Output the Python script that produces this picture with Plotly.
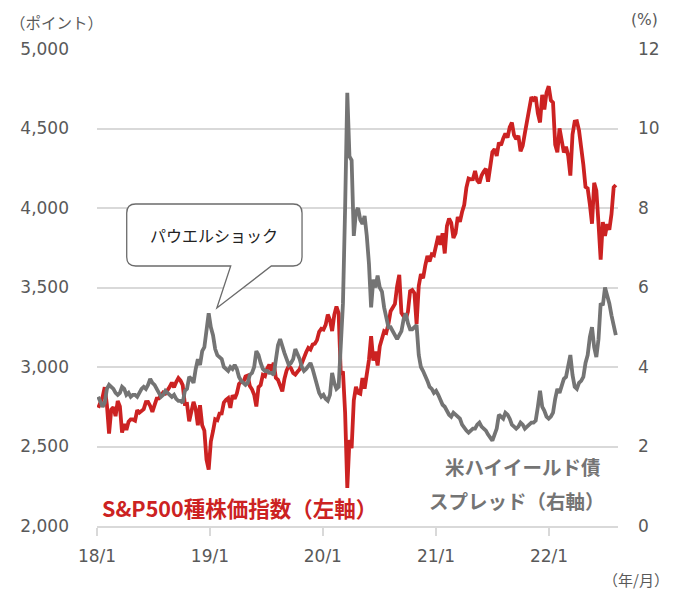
import pandas as pd
import plotly.graph_objects as go

# ---------------- data (weekly, Friday) ----------------
sp_2018 = [2743, 2786, 2810, 2873, 2762, 2581, 2732, 2747, 2691, 2786, 2752, 2588, 2641,
           2604, 2656, 2670, 2670, 2663, 2728, 2713, 2721, 2735, 2779, 2780, 2755, 2718,
           2760, 2801, 2802, 2819, 2840, 2833, 2850, 2875, 2902, 2872, 2905, 2930, 2914,
           2886, 2767, 2768, 2659, 2723, 2781, 2736, 2633, 2760, 2633, 2600, 2417, 2355]
sp_2019 = [2532, 2596, 2671, 2665, 2707, 2708, 2776, 2793, 2804, 2743, 2822, 2800, 2834,
           2893, 2907, 2905, 2940, 2946, 2881, 2860, 2826, 2752, 2873, 2887, 2950, 2942,
           2990, 3014, 2977, 3026, 2932, 2919, 2889, 2847, 2926, 2979, 3007, 2992, 2962,
           2952, 2970, 2986, 3023, 3067, 3093, 3120, 3110, 3141, 3146, 3169, 3221, 3240]
sp_2020 = [3235, 3265, 3330, 3295, 3226, 3328, 3380, 3338, 2954, 2972, 2711, 2240, 2541,
           2489, 2790, 2875, 2837, 2831, 2930, 2864, 2955, 3044, 3194, 3041, 3098, 3009,
           3130, 3185, 3225, 3216, 3271, 3351, 3373, 3397, 3508, 3580, 3341, 3319, 3298,
           3348, 3477, 3484, 3465, 3270, 3510, 3585, 3558, 3638, 3699, 3663, 3709, 3703]
sp_2021 = [3756, 3825, 3768, 3841, 3714, 3887, 3934, 3907, 3811, 3842, 3943, 3913, 3975,
           4020, 4129, 4185, 4180, 4181, 4233, 4174, 4156, 4204, 4230, 4247, 4166, 4281,
           4352, 4370, 4327, 4411, 4395, 4437, 4468, 4442, 4509, 4537, 4459, 4433, 4455,
           4357, 4391, 4471, 4545, 4605, 4697, 4682, 4698, 4595, 4538, 4712, 4620, 4726, 4766]
sp_2022 = [4677, 4663, 4398, 4350, 4501, 4419, 4349, 4385, 4329, 4204, 4463, 4543,
           4546, 4488, 4393, 4272, 4132, 4123, 4024, 3901, 4158, 4109, 3901, 3675, 3912,
           3825, 3899, 3863, 3962, 4130, 4145]

hy_2018 = [3.25, 3.10, 3.00, 3.10, 3.45, 3.55, 3.50, 3.45, 3.35, 3.30, 3.35, 3.50, 3.45,
           3.30, 3.35, 3.25, 3.30, 3.30, 3.25, 3.35, 3.45, 3.50, 3.45, 3.55, 3.70, 3.60,
           3.55, 3.45, 3.35, 3.25, 3.30, 3.40, 3.35, 3.30, 3.25, 3.30, 3.20, 3.15, 3.15,
           3.10, 3.40, 3.45, 3.75, 3.70, 3.60, 3.95, 4.20, 4.05, 4.40, 4.50, 4.90, 5.35]
hy_2019 = [5.00, 4.80, 4.45, 4.30, 4.25, 4.20, 4.00, 3.95, 3.90, 4.00, 3.95, 4.05, 3.95,
           3.75, 3.65, 3.60, 3.55, 3.60, 3.80, 3.85, 4.00, 4.40, 4.30, 4.10, 3.95, 3.90,
           3.90, 3.85, 3.85, 3.80, 4.20, 4.55, 4.70, 4.50, 4.35, 4.20, 4.05, 4.10, 4.20,
           4.45, 4.35, 4.20, 4.00, 3.90, 3.95, 4.05, 4.10, 3.95, 3.75, 3.55, 3.35, 3.25]
hy_2020 = [3.30, 3.20, 3.15, 3.30, 3.85, 3.60, 3.45, 3.50, 4.60, 5.60, 8.00, 10.90, 9.30,
           9.20, 7.30, 7.90, 8.00, 7.70, 7.60, 7.80, 7.30, 6.60, 5.50, 6.20, 6.00, 6.30,
           6.00, 5.90, 5.50, 5.20, 5.00, 5.00, 4.90, 4.80, 4.70, 4.80, 4.90, 5.20, 5.35,
           5.10, 4.95, 4.95, 5.00, 5.05, 4.30, 4.00, 3.90, 3.80, 3.65, 3.50, 3.45, 3.35]
hy_2021 = [3.40, 3.30, 3.20, 3.05, 3.00, 2.90, 2.80, 2.75, 2.85, 2.80, 2.75, 2.70, 2.55,
           2.45, 2.40, 2.35, 2.40, 2.45, 2.45, 2.55, 2.60, 2.50, 2.45, 2.40, 2.30, 2.20,
           2.15, 2.30, 2.45, 2.80, 2.75, 2.70, 2.85, 2.80, 2.70, 2.55, 2.50, 2.45, 2.50,
           2.60, 2.55, 2.45, 2.50, 2.55, 2.60, 2.60, 2.65, 3.00, 3.40, 3.00, 2.90, 2.75, 2.70]
hy_2022 = [2.75, 2.85, 3.20, 3.45, 3.35, 3.50, 3.70, 3.75, 4.10, 4.30, 3.80, 3.50,
           3.45, 3.60, 3.65, 3.75, 4.10, 4.30, 4.75, 5.00, 4.50, 4.25, 4.70, 5.60, 5.55,
           6.00, 5.80, 5.60, 5.30, 5.00, 4.80]

year_spans = [("2018-01-01", "2018-12-31", sp_2018, hy_2018),
              ("2019-01-01", "2019-12-31", sp_2019, hy_2019),
              ("2020-01-01", "2020-12-31", sp_2020, hy_2020),
              ("2021-01-01", "2021-12-31", sp_2021, hy_2021),
              ("2022-01-01", "2022-08-05", sp_2022, hy_2022)]

dates, sp, hy = [], [], []
for start, end, s, h in year_spans:
    d = list(pd.date_range(start, end, freq="W-FRI"))
    n = min(len(d), len(s), len(h))
    dates += d[:n]
    sp += s[:n]
    hy += h[:n]

tick_dates = ["2018-01-01", "2019-01-01", "2020-01-01", "2021-01-01", "2022-01-01"]
tick_text = ["18/1", "19/1", "20/1", "21/1", "22/1"]

RED = "#CC2222"
GRAY = "#747474"
TXT = "#595959"
GRID = "#D9D9D9"

fig = go.Figure()
fig.add_trace(go.Scatter(x=dates, y=sp, mode="lines", line=dict(color=RED, width=3.8),
                         name="S&P500", yaxis="y"))
fig.add_trace(go.Scatter(x=dates, y=hy, mode="lines", line=dict(color=GRAY, width=3.8),
                         name="HY", yaxis="y2"))

# page body has an 8px margin -> figure is drawn 8px in from the window corner
OFF = 8
W, H = 677 - OFF, 591 - OFF
L, R, T, B = 92 - OFF, 618 - OFF, 49 - OFF, 526 - OFF


def px(x):
    return (x - OFF - L) / (R - L)


def py(y):
    return (B - (y - OFF)) / (B - T)


# callout box path (window pixel layout -> paper)
bl, br, bt, bb, rr = 122, 299, 204, 266, 9
pts = [("M", bl + rr, bt), ("L", br - rr, bt), ("Q", br, bt, br, bt + rr), ("L", br, bb - rr),
       ("Q", br, bb, br - rr, bb), ("L", 268, bb), ("L", 213, 308), ("L", 227, bb),
       ("L", bl + rr, bb), ("Q", bl, bb, bl, bb - rr), ("L", bl, bt + rr),
       ("Q", bl, bt, bl + rr, bt)]
path = ""
for p in pts:
    cmd = p[0]
    coords = p[1:]
    s = " ".join(f"{px(coords[i]):.5f},{py(coords[i+1]):.5f}" for i in range(0, len(coords), 2))
    path += f"{cmd} {s} "
path += "Z"

fig.add_shape(type="path", path=path, xref="paper", yref="paper",
              line=dict(color="#6b6b6b", width=1.3), fillcolor="white", layer="above")

JP = "Noto Sans CJK JP"
NUM = "DejaVu Sans"

fig.update_layout(
    width=W, height=H,
    margin=dict(l=L, r=W - R, t=T, b=H - B),
    paper_bgcolor="white", plot_bgcolor="white",
    showlegend=False,
    xaxis=dict(type="date", range=["2018-01-01", "2022-08-12"],
               tickvals=tick_dates, ticktext=tick_text,
               showgrid=False, showline=True, linecolor=GRID, linewidth=1.5,
               ticks="outside", ticklen=8, tickcolor=GRID, tickwidth=1.5,
               tickfont=dict(family=NUM, size=17, color=TXT), zeroline=False,
               ticklabelstandoff=6),
    yaxis=dict(range=[2000, 5000], dtick=500, tickformat=",d",
               showgrid=True, gridcolor=GRID, gridwidth=1.5, zeroline=False,
               showline=False, tickfont=dict(family=NUM, size=17, color=TXT),
               ticklabelstandoff=27),
    yaxis2=dict(range=[0, 12], dtick=2, overlaying="y", side="right",
                showgrid=False, zeroline=False, showline=False,
                tickfont=dict(family=NUM, size=17, color=TXT),
                ticklabelstandoff=19),
)

ann = [
    dict(text="（ポイント）", x=px(2), y=py(22), xanchor="left", yanchor="middle",
         font=dict(family=JP, size=15.5, color=TXT)),
    dict(text="(%)", x=px(629), y=py(20), xanchor="left", yanchor="middle",
         font=dict(family=NUM, size=15.5, color=TXT)),
    dict(text="（年/月）", x=px(670), y=py(579), xanchor="right", yanchor="middle",
         font=dict(family=JP, size=15, color=TXT), borderpad=0),
    dict(text="<b>S&P500種株価指数（左軸）</b>", x=px(236), y=py(507), xanchor="center",
         yanchor="middle", font=dict(family=JP, size=21.5, color=RED)),
    dict(text="<b>米ハイイールド債</b>", x=px(522), y=py(466), xanchor="center",
         yanchor="middle", font=dict(family=JP, size=19.5, color=GRAY)),
    dict(text="<b>スプレッド（右軸）</b>", x=px(516), y=py(500), xanchor="center",
         yanchor="middle", font=dict(family=JP, size=19.5, color=GRAY)),
    dict(text="パウエルショック", x=px(210), y=py(235), xanchor="center", yanchor="middle",
         font=dict(family=JP, size=16, color="#222222")),
]
for a in ann:
    a.update(xref="paper", yref="paper", showarrow=False)
fig.update_layout(annotations=ann)

fig.write_html("out.html")
